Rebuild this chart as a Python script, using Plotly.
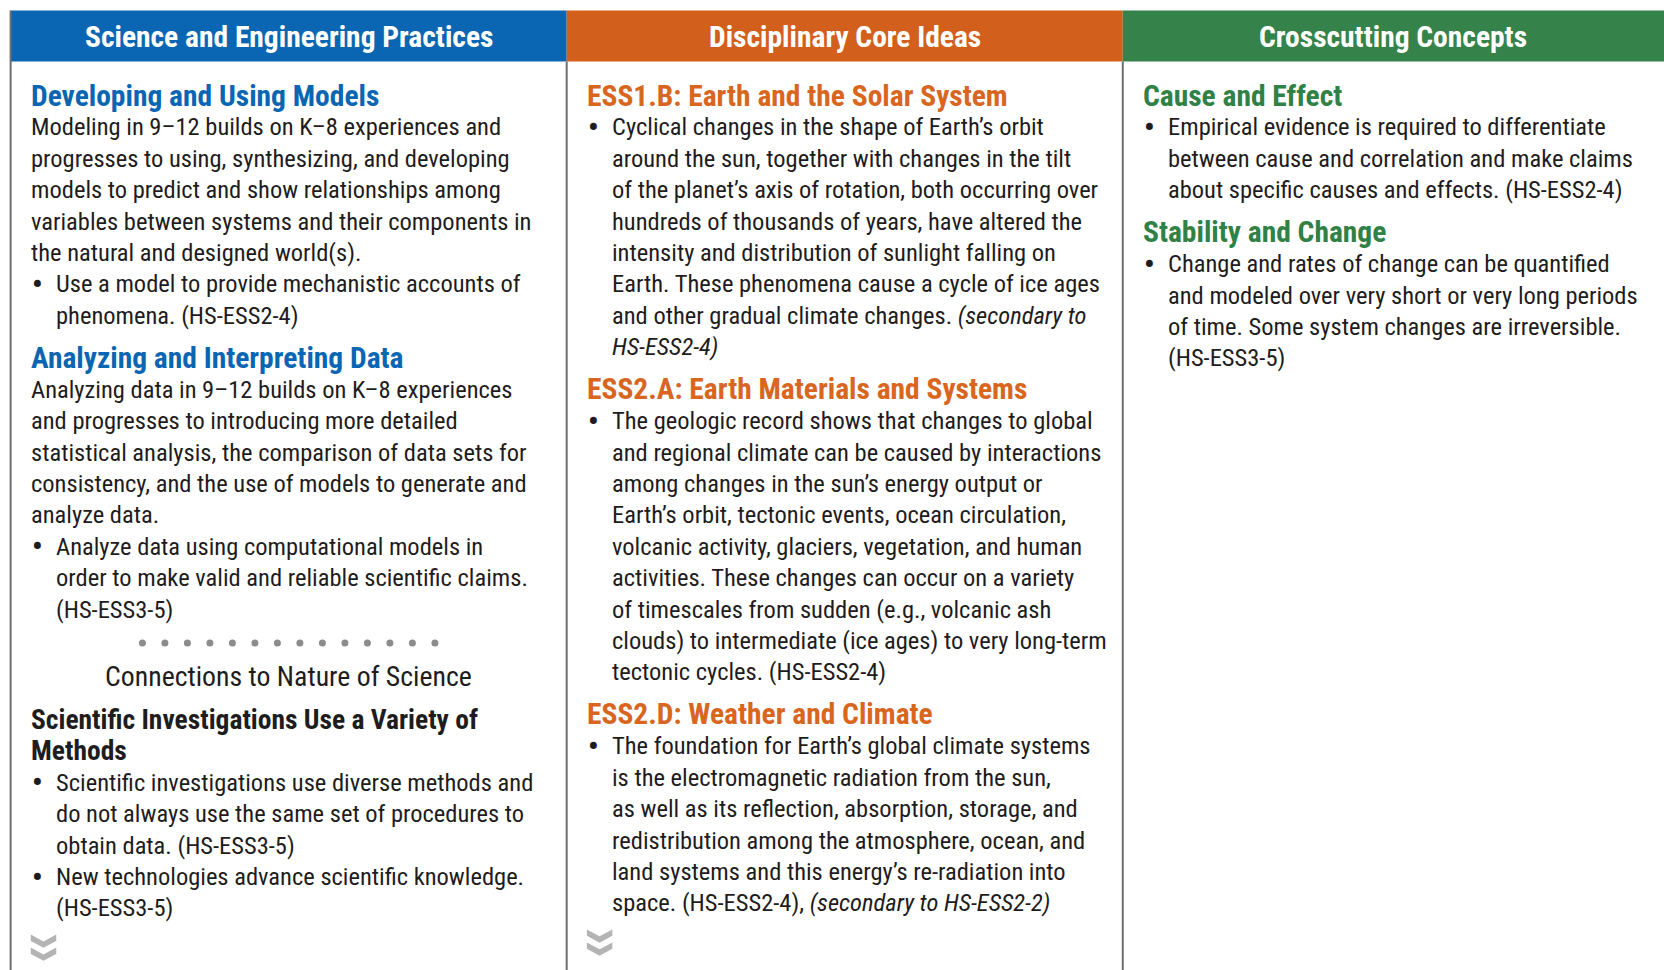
import plotly.graph_objects as go

W, H = 1664, 970
S = 1664 / 1568

headers = ["Science and Engineering Practices", "Disciplinary Core Ideas", "Crosscutting Concepts"]
header_colors = ["#0a66b2", "#d35f1d", "#35824a"]
heading_colors = ["#0a66b2", "#d9661f", "#2f8146"]

col1 = [
    ("head", "Developing and Using Models"),
    ("body", "Modeling in 9–12 builds on K–8 experiences and"),
    ("body", "progresses to using, synthesizing, and developing"),
    ("body", "models to predict and show relationships among"),
    ("body", "variables between systems and their components in"),
    ("body", "the natural and designed world(s)."),
    ("bullet", "Use a model to provide mechanistic accounts of"),
    ("cont", "phenomena. (HS-ESS2-4)"),
    ("head", "Analyzing and Interpreting Data"),
    ("body", "Analyzing data in 9–12 builds on K–8 experiences"),
    ("body", "and progresses to introducing more detailed"),
    ("body", "statistical analysis, the comparison of data sets for"),
    ("body", "consistency, and the use of models to generate and"),
    ("body", "analyze data."),
    ("bullet", "Analyze data using computational models in"),
    ("cont", "order to make valid and reliable scientific claims."),
    ("cont", "(HS-ESS3-5)"),
    ("dots", ""),
    ("center", "Connections to Nature of Science"),
    ("bold", "Scientific Investigations Use a Variety of"),
    ("bold2", "Methods"),
    ("bullet", "Scientific investigations use diverse methods and"),
    ("cont", "do not always use the same set of procedures to"),
    ("cont", "obtain data. (HS-ESS3-5)"),
    ("bullet", "New technologies advance scientific knowledge."),
    ("cont", "(HS-ESS3-5)"),
]

col2 = [
    ("head", "ESS1.B: Earth and the Solar System"),
    ("bullet", "Cyclical changes in the shape of Earth’s orbit"),
    ("cont", "around the sun, together with changes in the tilt"),
    ("cont", "of the planet’s axis of rotation, both occurring over"),
    ("cont", "hundreds of thousands of years, have altered the"),
    ("cont", "intensity and distribution of sunlight falling on"),
    ("cont", "Earth. These phenomena cause a cycle of ice ages"),
    ("cont", "and other gradual climate changes. <i>(secondary to</i>"),
    ("cont", "<i>HS-ESS2-4)</i>"),
    ("head", "ESS2.A: Earth Materials and Systems"),
    ("bullet", "The geologic record shows that changes to global"),
    ("cont", "and regional climate can be caused by interactions"),
    ("cont", "among changes in the sun’s energy output or"),
    ("cont", "Earth’s orbit, tectonic events, ocean circulation,"),
    ("cont", "volcanic activity, glaciers, vegetation, and human"),
    ("cont", "activities. These changes can occur on a variety"),
    ("cont", "of timescales from sudden (e.g., volcanic ash"),
    ("cont", "clouds) to intermediate (ice ages) to very long-term"),
    ("cont", "tectonic cycles. (HS-ESS2-4)"),
    ("head", "ESS2.D: Weather and Climate"),
    ("bullet", "The foundation for Earth’s global climate systems"),
    ("cont", "is the electromagnetic radiation from the sun,"),
    ("cont", "as well as its reflection, absorption, storage, and"),
    ("cont", "redistribution among the atmosphere, ocean, and"),
    ("cont", "land systems and this energy’s re-radiation into"),
    ("cont", "space. (HS-ESS2-4), <i>(secondary to HS-ESS2-2)</i>"),
]

col3 = [
    ("head", "Cause and Effect"),
    ("bullet", "Empirical evidence is required to differentiate"),
    ("cont", "between cause and correlation and make claims"),
    ("cont", "about specific causes and effects. (HS-ESS2-4)"),
    ("head", "Stability and Change"),
    ("bullet", "Change and rates of change can be quantified"),
    ("cont", "and modeled over very short or very long periods"),
    ("cont", "of time. Some system changes are irreversible."),
    ("cont", "(HS-ESS3-5)"),
]

columns = [col1, col2, col3]
chevron_cols = [0, 1]
n_dots = 14

# layout geometry (pixels)
col_edges = [10 * S, 534 * S, 1058 * S, W]
head_top, head_bot = 10 * S, 58 * S
top_y = 90 * S
step = 29.6 * S
extra = {"head": 10.4 * S, "bold": 11.4 * S, "dots": 2.4 * S, "center": 1.4 * S}

FONT = "Roboto Condensed, DejaVu Sans Condensed, sans-serif"
TXT = "#1e1c1d"
BODY = 24.5
HEAD = 29.5

fig = go.Figure()
shapes = []
ann = []

# header bars
for i, (name, c) in enumerate(zip(headers, header_colors)):
    x0, x1 = col_edges[i], col_edges[i + 1]
    shapes.append(dict(type="rect", x0=x0, x1=x1, y0=head_top, y1=head_bot,
                       fillcolor=c, line=dict(width=0), layer="below"))
    ann.append(dict(x=(x0 + x1) / 2, y=(head_top + head_bot) / 2 + 1, text="<b>" + name + "</b>",
                    xanchor="center", yanchor="middle", showarrow=False,
                    font=dict(family=FONT, size=29.5, color="white")))

# vertical borders
for i in range(3):
    x = col_edges[i]
    shapes.append(dict(type="line", x0=x, x1=x, y0=head_bot if i else head_top, y1=H,
                       line=dict(color="#6d6e71", width=2)))

chev_y = {}
for ci, col in enumerate(columns):
    x0 = col_edges[ci]
    xl = x0 + 17.5 * S
    xb = x0 + 25.5 * S
    xt = x0 + 40.5 * S
    y = top_y
    for li, (kind, text) in enumerate(col):
        if li > 0:
            y += step + extra.get(kind, 0)
        if kind == "head":
            ann.append(dict(x=xl, y=y, text="<b>" + text + "</b>", xanchor="left", yanchor="middle",
                            showarrow=False, font=dict(family=FONT, size=HEAD, color=heading_colors[ci])))
        elif kind in ("bold", "bold2"):
            ann.append(dict(x=xl, y=y, text="<b>" + text + "</b>", xanchor="left", yanchor="middle",
                            showarrow=False, font=dict(family=FONT, size=27.5, color=TXT)))
        elif kind == "body":
            ann.append(dict(x=xl, y=y, text=text, xanchor="left", yanchor="middle",
                            showarrow=False, font=dict(family=FONT, size=BODY, color=TXT)))
        elif kind in ("bullet", "cont"):
            if kind == "bullet":
                ann.append(dict(x=xb, y=y, text="<b>•</b>", xanchor="center", yanchor="middle",
                                showarrow=False, font=dict(family=FONT, size=BODY + 5, color=TXT)))
            ann.append(dict(x=xt, y=y, text=text, xanchor="left", yanchor="middle",
                            showarrow=False, font=dict(family=FONT, size=BODY, color=TXT)))
        elif kind == "center":
            ann.append(dict(x=(col_edges[ci] + col_edges[ci + 1]) / 2, y=y, text=text,
                            xanchor="center", yanchor="middle", showarrow=False,
                            font=dict(family=FONT, size=27.8, color=TXT)))
        elif kind == "dots":
            cx = (col_edges[ci] + col_edges[ci + 1]) / 2
            gap = 21.2 * S
            xs = [cx + (k - (n_dots - 1) / 2) * gap for k in range(n_dots)]
            fig.add_trace(go.Scatter(x=xs, y=[y] * n_dots, mode="markers",
                                     marker=dict(size=7, color="#8c8c8c"),
                                     hoverinfo="skip", showlegend=False))
    chev_y[ci] = y + 25 * S

# chevrons
for ci in chevron_cols:
    cx = col_edges[ci] + 31 * S
    for k in range(2):
        yy = chev_y[ci] + k * 12.3 * S
        w, h, t = 12 * S, 6.5 * S, 6 * S
        path = (f"M {cx-w},{yy} L {cx},{yy+h} L {cx+w},{yy} L {cx+w},{yy+t} "
                f"L {cx},{yy+h+t} L {cx-w},{yy+t} Z")
        shapes.append(dict(type="path", path=path, fillcolor="#b4b4b4", line=dict(width=0)))

fig.update_layout(
    width=W, height=H, margin=dict(l=0, r=0, t=0, b=0),
    paper_bgcolor="white", plot_bgcolor="white",
    xaxis=dict(range=[0, W], visible=False, fixedrange=True),
    yaxis=dict(range=[H, 0], visible=False, fixedrange=True),
    shapes=shapes, annotations=ann, showlegend=False,
)
fig.write_html("out.html", config={"displayModeBar": False},
               post_script="document.body.style.margin='0px';")
